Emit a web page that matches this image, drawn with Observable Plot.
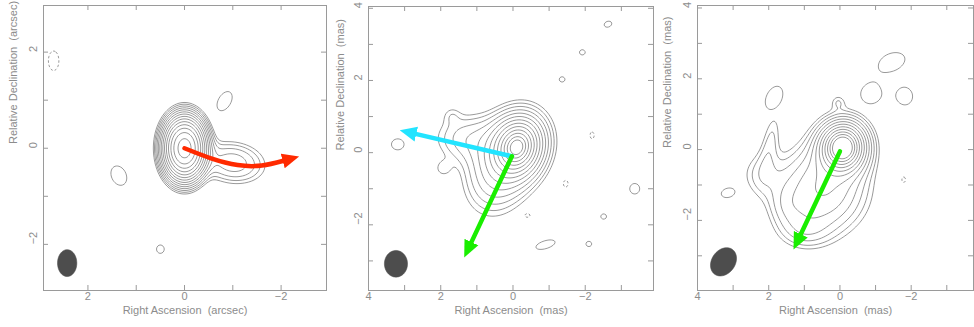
<!DOCTYPE html>
<html><head><meta charset="utf-8">
<script src="https://cdn.jsdelivr.net/npm/d3@7"></script>
<script src="https://cdn.jsdelivr.net/npm/@observablehq/plot@0.6"></script>
<style>
body{margin:0;background:#fff}
#wrap{position:relative;width:974px;height:327px;overflow:hidden}
.p{position:absolute;top:0}
</style></head>
<body><div id="wrap"></div>
<script>
// ---- contour levels (peak-normalised units, factor sqrt(2)) ----
const levels = [0.9, 1.27, 1.8, 2.55, 3.6, 5.1, 7.2, 10.2, 14.4, 20.4, 28.8, 40.7, 57.6, 81.5];
const blobLevel = [0.9];

// ---- Panel 1 (arcsec) ----  pw: 1 = gaussian, 0.5 = exponential profile
const p1Source = [
  {x: 0, y: 0, amp: 100, sx: 0.21, sy: 0.31, angle: 0, pw: 1},
  {x: -1.0, y: -0.3, amp: 3.2, sx: 0.42, sy: 0.27, angle: 8, pw: 1}
];
const p1Blobs = [
  {x: -0.83, y: 0.98, amp: 1.17, sx: 0.18, sy: 0.30, angle: 30},
  {x: 1.36, y: -0.57, amp: 1.17, sx: 0.21, sy: 0.29, angle: -25},
  {x: 0.5, y: -2.1, amp: 1.17, sx: 0.11, sy: 0.12, angle: 0}
];
const p1Negative = [
  {x: 2.71, y: 1.82, amp: 1.17, sx: 0.15, sy: 0.28, angle: 0}
];
const p1Beam = [{x: 2.43, y: -2.39, amp: 1, sx: 0.2, sy: 0.28, angle: 0}];
const p1RedArrow = [
  {x: 0, y: 0}, {x: -0.55, y: -0.21}, {x: -1.1, y: -0.35}, {x: -1.6, y: -0.36}, {x: -2.05, y: -0.26}
];
const p1Ticks = [-2, -1, 0, 1, 2];
const p1TickLabels = [2, 0, -2];

// ---- Panel 2 (mas) ----
const p2Source = [
  {x: -0.1, y: 0.15, amp: 120, sx: 0.11, sy: 0.135, angle: 20, pw: 0.5},
  {x: 0.45, y: -0.55, amp: 3.2, sx: 0.55, sy: 0.75, angle: 15, pw: 1},
  {x: 1.3, y: 0.4, amp: 2.0, sx: 0.6, sy: 0.45, angle: 0, pw: 1},
  {x: 1.95, y: -0.45, amp: 0.9, sx: 0.18, sy: 0.18, angle: 0, pw: 1},
  {x: 1.7, y: 1.05, amp: 0.7, sx: 0.18, sy: 0.18, angle: 0, pw: 1}
];
const p2Blobs = [
  {x: 3.19, y: 0.23, amp: 1.17, sx: 0.24, sy: 0.21, angle: 0},
  {x: -2.63, y: 3.56, amp: 1.17, sx: 0.15, sy: 0.11, angle: -20},
  {x: -1.92, y: 2.78, amp: 1.17, sx: 0.11, sy: 0.1, angle: 0},
  {x: -1.36, y: 2.03, amp: 1.17, sx: 0.11, sy: 0.1, angle: 0},
  {x: -3.37, y: -1.0, amp: 1.17, sx: 0.19, sy: 0.2, angle: 0},
  {x: -2.51, y: -1.77, amp: 1.17, sx: 0.11, sy: 0.1, angle: 0},
  {x: -2.1, y: -2.53, amp: 1.17, sx: 0.11, sy: 0.1, angle: 0},
  {x: -0.9, y: -2.55, amp: 1.17, sx: 0.38, sy: 0.15, angle: -17}
];
const p2Negative = [
  {x: -2.19, y: 0.48, amp: 1.17, sx: 0.08, sy: 0.13, angle: 0},
  {x: -1.46, y: -0.86, amp: 1.17, sx: 0.09, sy: 0.13, angle: 0},
  {x: -0.4, y: -1.74, amp: 1.17, sx: 0.1, sy: 0.07, angle: 0}
];
const p2Beam = [{x: 3.24, y: -3.08, amp: 1, sx: 0.32, sy: 0.37, angle: 0}];
const p2CyanArrow = [{x: 0.03, y: -0.1}, {x: 2.70, y: 0.52}];
const p2GreenArrow = [{x: 0.03, y: -0.1}, {x: 1.16, y: -2.5}];
const p2Ticks = [-3, -2, -1, 0, 1, 2, 3, 4];
const p2TickLabels = [4, 2, 0, -2];

// ---- Panel 3 (mas) ----
const p3Source = [
  {x: -0.07, y: 0.05, amp: 170, sx: 0.095, sy: 0.105, angle: 10, pw: 0.5},
  {x: 0.5, y: -1.15, amp: 5.0, sx: 0.75, sy: 0.75, angle: 15, pw: 1},
  {x: 1.0, y: -2.3, amp: 1.5, sx: 0.5, sy: 0.35, angle: 0, pw: 1},
  {x: 2.2, y: -0.7, amp: 1.3, sx: 0.42, sy: 0.45, angle: 0, pw: 1},
  {x: 1.95, y: 0.25, amp: 1.25, sx: 0.18, sy: 0.65, angle: 10, pw: 1},
  {x: 1.5, y: -1.6, amp: 1.2, sx: 0.35, sy: 0.4, angle: 0, pw: 1},
  {x: 0.05, y: 1.35, amp: 1.0, sx: 0.15, sy: 0.15, angle: 0, pw: 1}
];
const p3Blobs = [
  {x: 1.85, y: 1.46, amp: 1.17, sx: 0.3, sy: 0.48, angle: 25},
  {x: -0.86, y: 1.55, amp: 1.17, sx: 0.37, sy: 0.35, angle: 0},
  {x: -1.84, y: 1.5, amp: 1.17, sx: 0.27, sy: 0.31, angle: 0},
  {x: -1.47, y: 2.49, amp: 1.17, sx: 0.5, sy: 0.32, angle: -19},
  {x: 3.14, y: -1.22, amp: 1.17, sx: 0.27, sy: 0.18, angle: -15}
];
const p3Negative = [
  {x: -1.79, y: -0.85, amp: 1.17, sx: 0.07, sy: 0.11, angle: 0}
];
const p3Beam = [{x: 3.27, y: -3.17, amp: 1, sx: 0.33, sy: 0.43, angle: 35}];
const p3GreenArrow = [{x: 0, y: -0.05}, {x: 1.11, y: -2.41}];
const p3Ticks = [-3, -2, -1, 0, 1, 2, 3, 4];
const p3TickLabels = [4, 2, 0, -2];

// ---- helpers ----
function field(comps) {
  const cs = comps.map(c => {
    const t = c.angle * Math.PI / 180;
    return {...c, ct: Math.cos(t), st: Math.sin(t), p: c.pw == null ? 1 : c.pw};
  });
  return (x, y) => {
    let s = 0;
    for (const c of cs) {
      const dx = x - c.x, dy = y - c.y;
      const u = dx * c.ct + dy * c.st, v = -dx * c.st + dy * c.ct;
      const q = u * u / (c.sx * c.sx) + v * v / (c.sy * c.sy);
      s += c.amp * Math.exp(-0.5 * (c.p === 1 ? q : Math.pow(q, c.p)));
    }
    return s;
  };
}
const fmt = d => d < 0 ? "\u2212" + (-d) : String(d);
const NS = "http://www.w3.org/2000/svg";
function arrowHead(color, context) {
  const doc = (context && context.document) || document;
  const m = doc.createElementNS(NS, "marker");
  m.setAttribute("viewBox", "0 -5 10 10");
  m.setAttribute("markerWidth", 17);
  m.setAttribute("markerHeight", 17);
  m.setAttribute("markerUnits", "userSpaceOnUse");
  m.setAttribute("refX", 0.5);
  m.setAttribute("refY", 0);
  m.setAttribute("orient", "auto");
  const p = doc.createElementNS(NS, "path");
  p.setAttribute("d", "M0,-4.5L10,0L0,4.5Z");
  p.setAttribute("fill", color);
  p.setAttribute("stroke", "none");
  m.appendChild(p);
  return m;
}

const TXT = "#8c8c8c", FRAME = "#9a9a9a", CONT = "#808080", BEAM = "#4d4d4d";

function panel(cfg) {
  const H = 327;
  const innerW = cfg.width - cfg.ml - cfg.mr, innerH = H - cfg.mt - cfg.mb;
  const ext = {x1: cfg.xDomain[0], x2: cfg.xDomain[1], y1: cfg.yDomain[0], y2: cfg.yDomain[1], pixelSize: 1};
  const marks = [
    Plot.contour({...ext, value: field(cfg.source), thresholds: cfg.levels, stroke: CONT, strokeWidth: 0.8, fill: "none"}),
    Plot.contour({...ext, value: field(cfg.blobs), thresholds: blobLevel, stroke: CONT, strokeWidth: 0.8, fill: "none"}),
    Plot.contour({...ext, value: field(cfg.negative), thresholds: blobLevel, stroke: CONT, strokeWidth: 0.8, strokeDasharray: "2.5,2", fill: "none"}),
    Plot.contour({...ext, value: field(cfg.beam), thresholds: [Math.exp(-0.5)], stroke: BEAM, strokeWidth: 0.5, fill: BEAM}),
    Plot.tickX(cfg.ticks, {x: d => d, stroke: FRAME, insetTop: innerH - 5}),
    Plot.tickX(cfg.ticks, {x: d => d, stroke: FRAME, insetBottom: innerH - 5}),
    Plot.tickY(cfg.ticks, {y: d => d, stroke: FRAME, insetRight: innerW - 5}),
    Plot.tickY(cfg.ticks, {y: d => d, stroke: FRAME, insetLeft: innerW - 5}),
    Plot.text(cfg.labels, {x: d => d, text: fmt, frameAnchor: "bottom", dy: 9, fill: TXT}),
    Plot.text(cfg.labels, {y: d => d, text: fmt, frameAnchor: "left", rotate: -90, dx: -10.5, fill: TXT}),
    Plot.text([cfg.xTitle], {text: d => d, frameAnchor: "bottom", dy: 23, fill: TXT}),
    Plot.text([cfg.yTitle], {text: d => d, frameAnchor: "left", rotate: -90, dx: cfg.ytdx, dy: cfg.ytdy, fill: TXT}),
    ...cfg.arrows.map(a => Plot.line(a.data, {x: "x", y: "y", stroke: a.color, strokeWidth: 4.5, curve: a.curve || "linear", markerEnd: arrowHead})),
    Plot.frame({stroke: FRAME})
  ];
  const svg = Plot.plot({
    width: cfg.width, height: H,
    marginLeft: cfg.ml, marginRight: cfg.mr, marginTop: cfg.mt, marginBottom: cfg.mb,
    x: {domain: cfg.xDomain, axis: null},
    y: {domain: cfg.yDomain, axis: null},
    style: {fontFamily: "'Liberation Sans', Arial, sans-serif", fontSize: "11px", background: "transparent", overflow: "visible"},
    marks
  });
  svg.classList.add("p");
  svg.style.left = cfg.left + "px";
  document.getElementById("wrap").appendChild(svg);
}

panel({
  left: 0, width: 330, ml: 43, mr: 4, mt: 5, mb: 37,
  xDomain: [2.92, -2.94], yDomain: [-2.96, 2.97],
  source: p1Source, blobs: p1Blobs, negative: p1Negative, beam: p1Beam,
  levels: levels,
  ticks: p1Ticks, labels: p1TickLabels,
  xTitle: "Right Ascension \u00a0(arcsec)", yTitle: "Relative Declination \u00a0(arcsec)", ytdx: -30, ytdy: -4,
  arrows: [{data: p1RedArrow, color: "#ff2a00", curve: "natural"}]
});
panel({
  left: 330, width: 326, ml: 38, mr: 3, mt: 6, mb: 37,
  xDomain: [4.0, -3.89], yDomain: [-3.82, 4.05],
  source: p2Source, blobs: p2Blobs, negative: p2Negative, beam: p2Beam,
  levels: levels.slice(0, 13),
  ticks: p2Ticks, labels: p2TickLabels,
  xTitle: "Right Ascension \u00a0(mas)", yTitle: "Relative Declination \u00a0(mas)", ytdx: -28.5, ytdy: 2,
  arrows: [{data: p2CyanArrow, color: "#22e4ff"}, {data: p2GreenArrow, color: "#1aee00"}]
});
panel({
  left: 656, width: 318, ml: 41, mr: 1, mt: 5, mb: 37,
  xDomain: [4.0, -3.75], yDomain: [-3.98, 4.07],
  source: p3Source, blobs: p3Blobs, negative: p3Negative, beam: p3Beam,
  levels: levels.slice(0, 12),
  ticks: p3Ticks, labels: p3TickLabels,
  xTitle: "Right Ascension \u00a0(mas)", yTitle: "Relative Declination \u00a0(mas)", ytdx: -30, ytdy: 0,
  arrows: [{data: p3GreenArrow, color: "#1aee00"}]
});
</script>
</body></html>
